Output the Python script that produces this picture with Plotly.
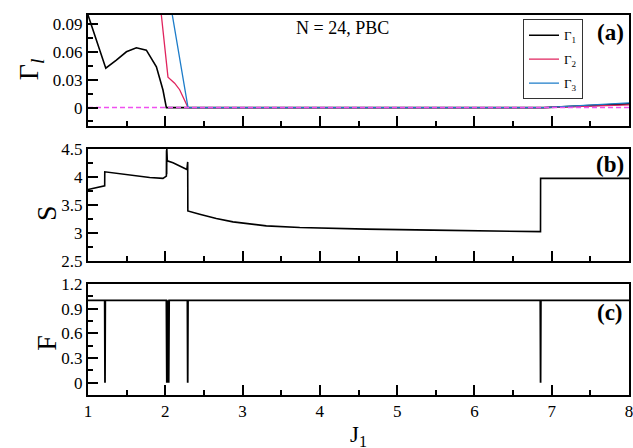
import plotly.graph_objects as go

# ---------------- data ----------------
# Panel (a): Gamma_l vs J1
g1_J = [1.0, 1.23, 1.367, 1.497, 1.626, 1.755, 1.885, 1.970, 2.0, 2.014, 6.9, 7.5, 8.0]
g1_v = [0.100, 0.0425, 0.0514, 0.0603, 0.0646, 0.0620, 0.0440, 0.0190, 0.006, 0.0, 0.0, 0.002, 0.004]

g2_J = [1.940, 2.035, 2.121, 2.186, 2.294, 6.9, 7.5, 8.0]
g2_v = [0.107, 0.0329, 0.0264, 0.0193, 0.0, 0.0, 0.0015, 0.003]

g3_J = [2.080, 2.294, 6.9, 7.5, 8.0]
g3_v = [0.1054, 0.0, 0.0, 0.0025, 0.005]

zero_J = [1.0, 8.0]
zero_v = [0.0, 0.0]

# Panel (b): entropy S vs J1
s_J = [1.0, 1.216, 1.217, 1.367, 1.583, 1.798, 1.970, 2.014, 2.016, 2.018, 2.020, 2.022, 2.024, 2.026,
       2.10, 2.20, 2.28, 2.29, 2.292, 2.445, 2.66, 2.876, 3.307, 3.74, 4.0, 4.60, 5.46, 6.33,
       6.855, 6.856, 8.0]
s_v = [3.776, 3.841, 4.093, 4.063, 4.020, 3.990, 3.974, 4.015, 4.48, 4.05, 4.50, 4.10, 4.45, 4.29,
       4.255, 4.195, 4.135, 4.27, 3.39, 3.333, 3.256, 3.195, 3.123, 3.094, 3.082, 3.064, 3.046, 3.034,
       3.020, 3.974, 3.974]

# Panel (c): fidelity F vs J1
f_J = [1.0, 1.216, 1.220, 1.224, 2.014, 2.020, 2.026, 2.032, 2.038, 2.044, 2.050, 2.056,
       2.286, 2.290, 2.294, 6.852, 6.856, 6.860, 8.0]
f_v = [1, 1, 0, 1, 1, 0, 1, 0, 1, 0, 1, 1,
       1, 0, 1, 1, 0, 1, 1]

x_ticks = [1, 2, 3, 4, 5, 6, 7, 8]

# ---------------- figure ----------------
FONT = "Liberation Serif, Times New Roman, serif"
W, H = 633, 448
# plot-area edges in window pixels
X0, X1 = 88, 629
Y0, Y1 = 14.7, 395.3
L, R = X0, W - X1
T, B = Y0, H - Y1

fig = go.Figure()

fig.add_trace(go.Scatter(x=g1_J, y=g1_v, mode="lines", name="Γ<sub>1</sub>",
                         line=dict(color="black", width=1.6), xaxis="x3", yaxis="y3", legendgroup="a"))
fig.add_trace(go.Scatter(x=g2_J, y=g2_v, mode="lines", name="Γ<sub>2</sub>",
                         line=dict(color="#e0245e", width=1.3), xaxis="x3", yaxis="y3", legendgroup="b"))
fig.add_trace(go.Scatter(x=g3_J, y=g3_v, mode="lines", name="Γ<sub>3</sub>",
                         line=dict(color="#1d7cc9", width=1.3), xaxis="x3", yaxis="y3", legendgroup="c"))
fig.add_trace(go.Scatter(x=zero_J, y=zero_v, mode="lines", showlegend=False,
                         line=dict(color="#f050f0", width=1.5, dash="5px,3px"), xaxis="x3", yaxis="y3"))

fig.add_trace(go.Scatter(x=s_J, y=s_v, mode="lines", showlegend=False,
                         line=dict(color="black", width=1.6), xaxis="x2", yaxis="y2"))

fig.add_trace(go.Scatter(x=f_J, y=f_v, mode="lines", showlegend=False,
                         line=dict(color="black", width=1.8), xaxis="x", yaxis="y"))

def py(pix):
    return (Y1 - pix) / (Y1 - Y0)
def px(pix):
    return (pix - X0) / (X1 - X0)

common_x = dict(range=[1, 8], tickvals=x_ticks, ticks="inside", ticklen=10, tickwidth=1.5,
                tickcolor="black", showline=True, linecolor="black", linewidth=2, mirror=True,
                showgrid=False, zeroline=False, ticklabeloverflow="allow",
                minor=dict(ticks="inside", ticklen=5, dtick=0.5, tick0=1, tickwidth=1.5, tickcolor="black"))
common_y = dict(ticks="inside", ticklen=10, tickwidth=1.5, tickcolor="black", showline=True,
                linecolor="black", linewidth=2, mirror=True, showgrid=False, zeroline=False,
                tickfont=dict(family=FONT, size=17, color="black"))

fig.update_layout(
    width=W, height=H,
    margin=dict(l=L, r=R, t=T, b=B, autoexpand=False),
    paper_bgcolor="white", plot_bgcolor="white",
    font=dict(family=FONT, color="black"),
    xaxis=dict(**common_x, anchor="y", domain=[0, 1],
               tickfont=dict(family=FONT, size=17, color="black")),
    xaxis2=dict(**common_x, anchor="y2", matches="x", showticklabels=False),
    xaxis3=dict(**common_x, anchor="y3", matches="x", showticklabels=False),
    yaxis=dict(**common_y, domain=[0, py(284)], range=[-0.15, 1.2], tickvals=[0, 0.3, 0.6, 0.9, 1.2],
               ticktext=["0", "0.3", "0.6", "0.9", "1.2"],
               minor=dict(ticks="inside", ticklen=5, dtick=0.15, tick0=0, tickwidth=1.5, tickcolor="black")),
    yaxis2=dict(**common_y, domain=[py(260.7), py(149)], range=[2.5, 4.5],
                tickvals=[2.5, 3, 3.5, 4, 4.5], ticktext=["2.5", "3", "3.5", "4", "4.5"],
                minor=dict(ticks="inside", ticklen=5, dtick=0.25, tick0=2.5, tickwidth=1.5, tickcolor="black")),
    yaxis3=dict(**common_y, domain=[py(126), 1], range=[-0.02, 0.1],
                tickvals=[0, 0.03, 0.06, 0.09], ticktext=["0", "0.03", "0.06", "0.09"],
                minor=dict(ticks="inside", ticklen=5, dtick=0.015, tick0=0, tickwidth=1.5, tickcolor="black")),
    showlegend=True,
    legend=dict(x=px(523), y=py(19), xanchor="left", yanchor="top",
                bgcolor="white", bordercolor="#333", borderwidth=1,
                font=dict(family=FONT, size=13, color="black"),
                tracegroupgap=4, itemwidth=30),
)

ann = []
# axis titles
ann.append(dict(text="Γ<sub><i>l</i></sub>", x=px(30), y=py(69), xref="paper", yref="paper",
                textangle=-90, showarrow=False, xanchor="center", yanchor="middle",
                font=dict(family=FONT, size=28, color="black")))
ann.append(dict(text="S", x=px(47), y=py(213), xref="paper", yref="paper",
                textangle=-90, showarrow=False, xanchor="center", yanchor="middle",
                font=dict(family=FONT, size=28, color="black")))
ann.append(dict(text="F", x=px(47), y=py(343), xref="paper", yref="paper",
                textangle=-90, showarrow=False, xanchor="center", yanchor="middle",
                font=dict(family=FONT, size=28, color="black")))
ann.append(dict(text="J<sub>1</sub>", x=0.5, y=py(420), xref="paper", yref="paper",
                showarrow=False, xanchor="center", yanchor="top",
                font=dict(family=FONT, size=23, color="black")))
# panel labels
ann.append(dict(text="N = 24, PBC", x=px(342), y=py(28), xref="paper", yref="paper",
                showarrow=False, xanchor="center", yanchor="middle",
                font=dict(family=FONT, size=18, color="black")))
for lab, yy in [("(a)", 32), ("(b)", 164), ("(c)", 313)]:
    ann.append(dict(text="<b>" + lab + "</b>", x=px(610), y=py(yy), xref="paper", yref="paper",
                    showarrow=False, xanchor="center", yanchor="middle",
                    font=dict(family=FONT, size=23, color="black")))
fig.update_layout(annotations=ann)

fig.write_html("out.html", config={"displayModeBar": False},
               post_script="document.body.style.margin='0';document.body.style.overflow='hidden';")
